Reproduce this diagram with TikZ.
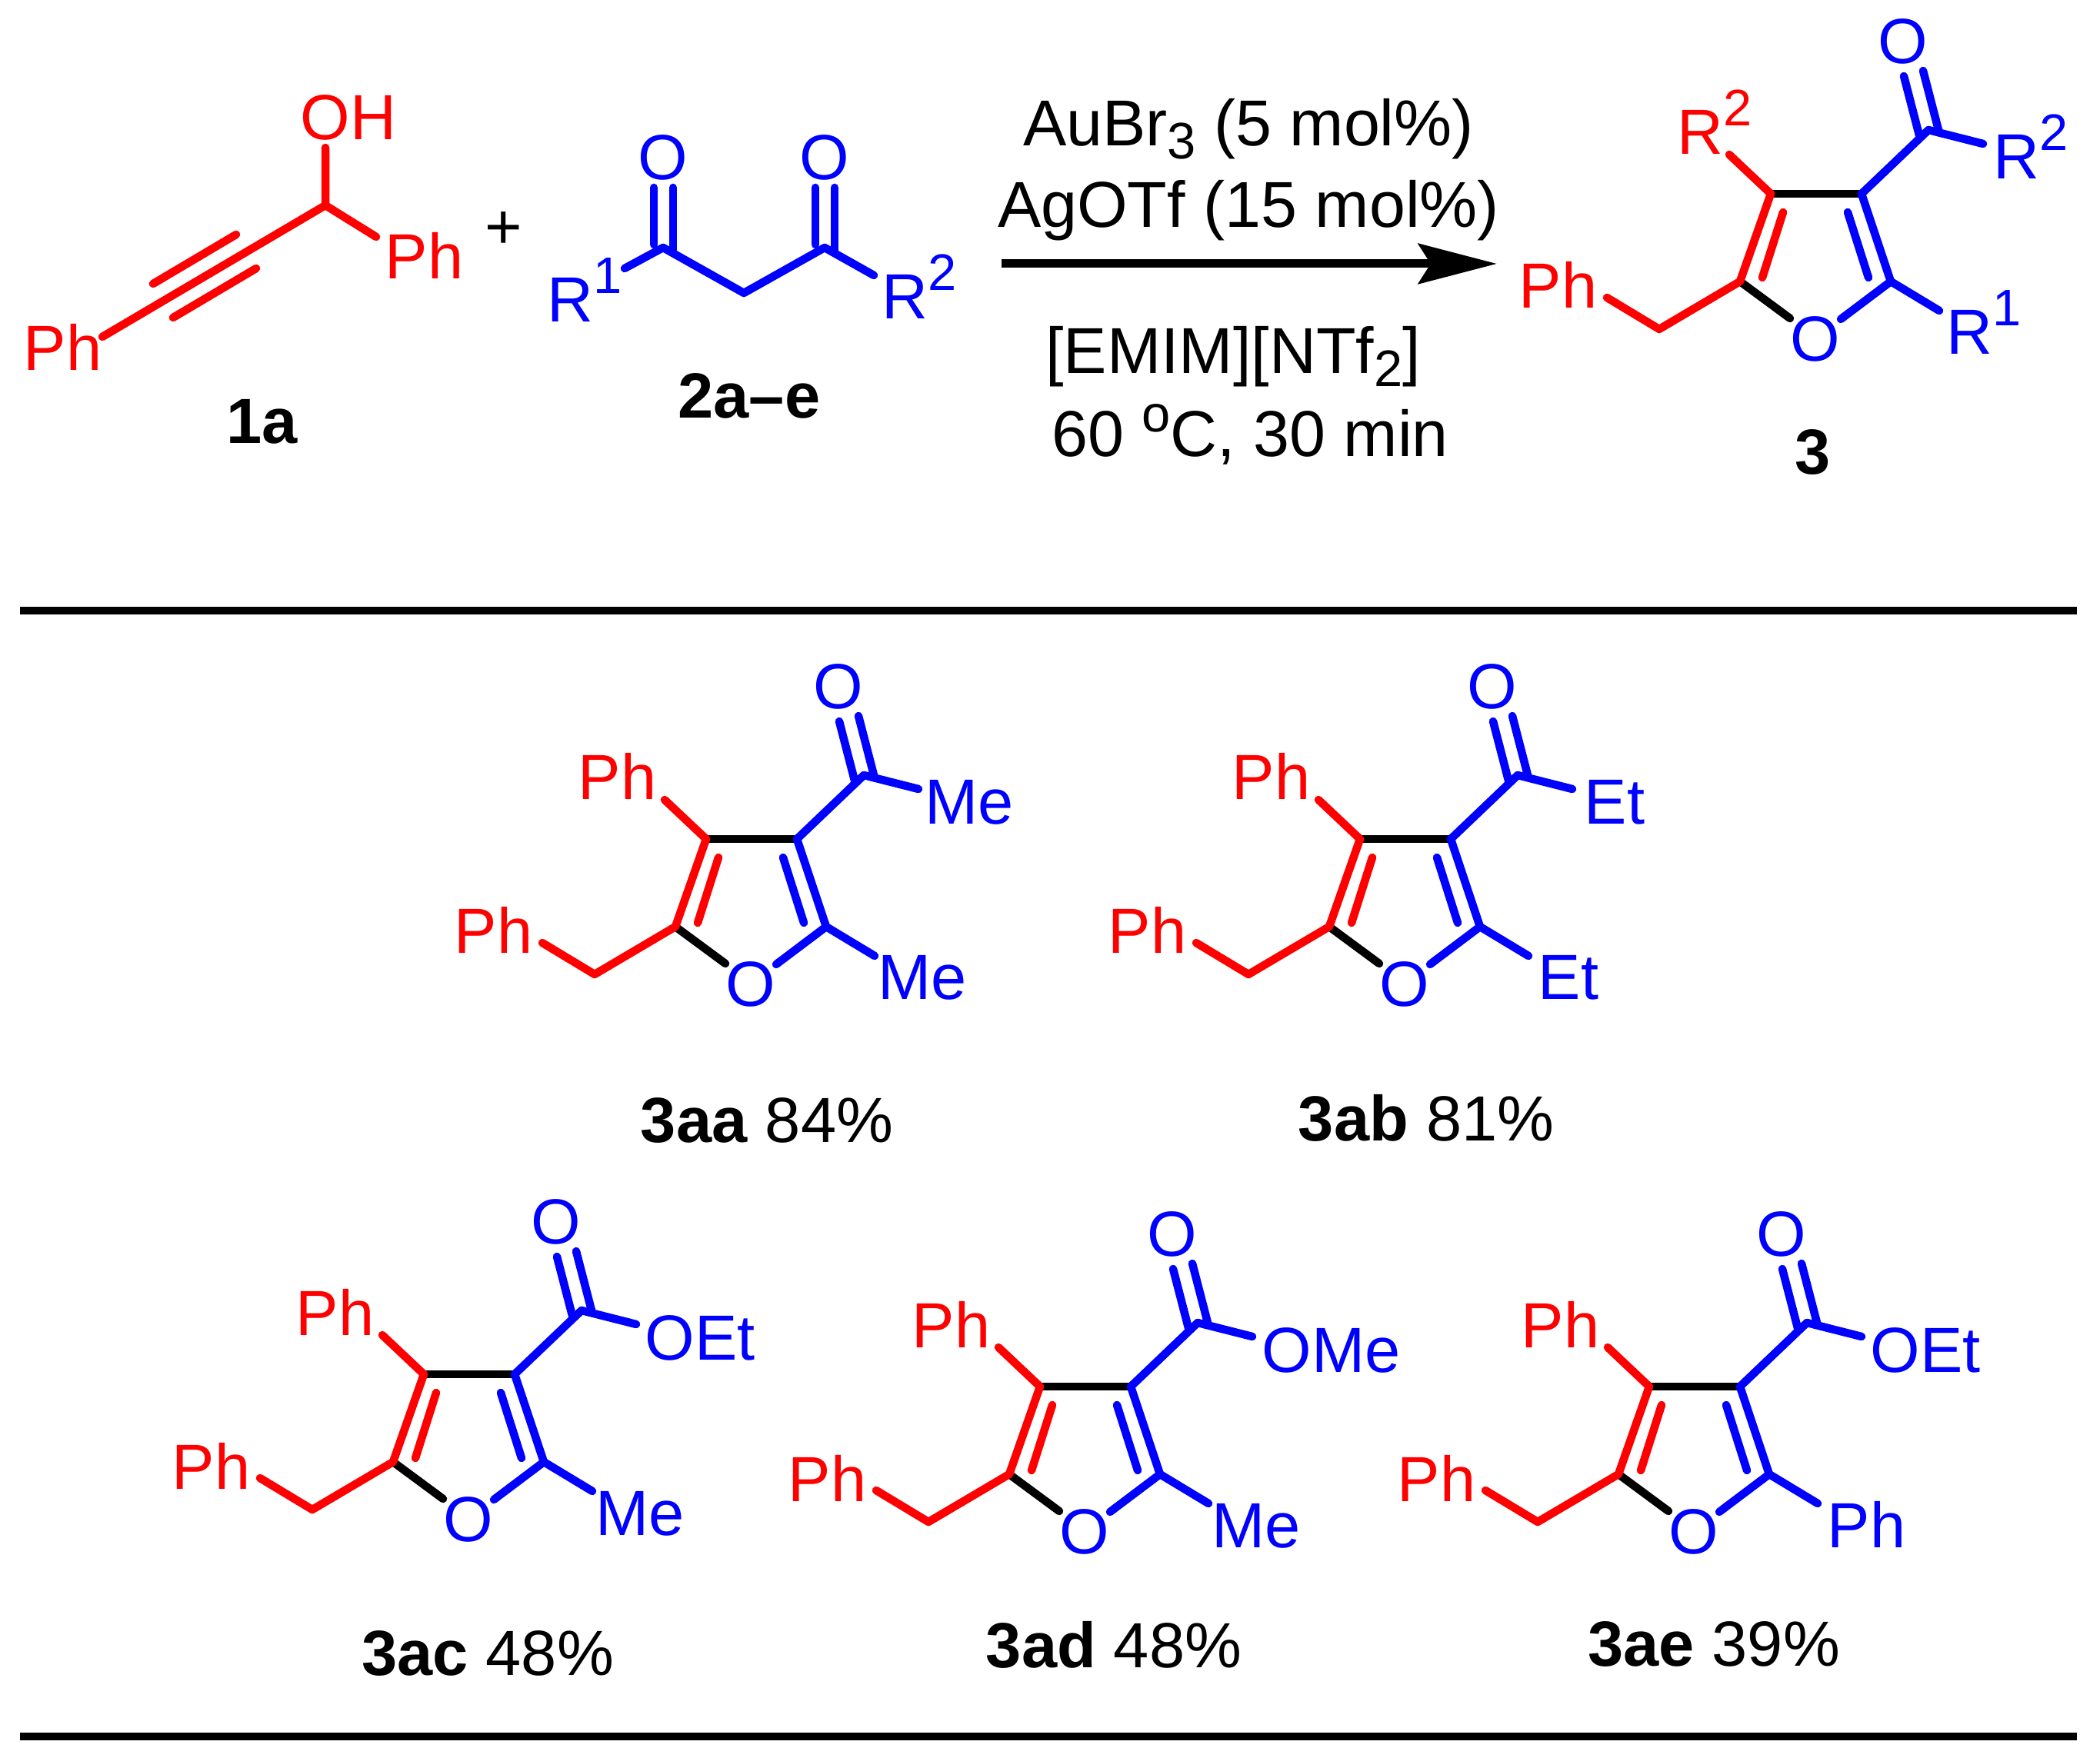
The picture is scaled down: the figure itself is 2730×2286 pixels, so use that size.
\documentclass[tikz,border=0pt]{standalone}
\usepackage{fontspec}
\setmainfont{Liberation Sans}
\usetikzlibrary{arrows.meta,positioning}
\definecolor{chemred}{rgb}{1.0,0.0,0.0}
\definecolor{chemblue}{rgb}{0.0,0.0,1.0}
\newcommand{\smallsize}{\fontsize{19pt}{19pt}\selectfont}
\newcommand{\supr}[1]{\raisebox{.37cm}{\smallsize #1}}
\newcommand{\subr}[1]{\raisebox{-.17cm}{\smallsize #1}}
\tikzset{
  every node/.style={font=\fontsize{23.6pt}{28pt}\selectfont,inner sep=0pt},
  bond/.style={line width=.105cm,line cap=round,line join=round},
  atom/.style={anchor=base west},
  cond/.style={anchor=base,font=\fontsize{24pt}{28pt}\selectfont},
  rule/.style={line width=.1cm},
}
% furan: name, shift x, shift y, upper left, upper right, lower right
\newcommand{\furan}[6]{
  \begin{scope}[shift={(#2,#3)}]
    \coordinate (#1-c3) at (918,1091);
    \coordinate (#1-c4) at (1036,1091);
    \coordinate (#1-c5) at (1074,1205);
    \coordinate (#1-c2) at (878,1205);
    \coordinate (#1-ch) at (773,1267);
    \coordinate (#1-co) at (1123,1008);
    \coordinate (#1-i1) at (934,1115);
    \coordinate (#1-i2) at (907,1200);
    \coordinate (#1-i3) at (1018,1115);
    \coordinate (#1-i4) at (1045,1200);
    \coordinate (#1-d1) at (1091,938);
    \coordinate (#1-d2) at (1111,1015);
    \coordinate (#1-d3) at (1116,931);
    \coordinate (#1-d4) at (1136,1008);
    \coordinate (#1-e1) at (705,1226);
    \coordinate (#1-e2) at (864,1040);
    \coordinate (#1-e3) at (1194,1026);
    \coordinate (#1-e4) at (1137,1243);
    \coordinate (#1-o1) at (943,1253);
    \coordinate (#1-o2) at (1009,1254);
    \node[atom,chemred] (#1-ph) at (590,1240) {Ph};
    \node[atom,chemred] (#1-ul) at (751,1040) {#4};
    \node[atom,chemblue] (#1-ur) at (1202,1072) {#5};
    \node[atom,chemblue] (#1-lr) at (1141,1300) {#6};
    \node[chemblue] (#1-o) at (976,1280) {O};
    \node[chemblue] (#1-ot) at (1090,893) {O};
    \draw[bond] (#1-c3) -- (#1-c4);
    \draw[bond] (#1-c2) -- (#1-o1);
    \draw[bond,chemred] (#1-e2) -- (#1-c3) -- (#1-c2) -- (#1-ch) -- (#1-e1);
    \draw[bond,chemred] (#1-i1) -- (#1-i2);
    \draw[bond,chemblue] (#1-co) -- (#1-c4) -- (#1-c5) -- (#1-o2);
    \draw[bond,chemblue] (#1-i3) -- (#1-i4);
    \draw[bond,chemblue] (#1-c5) -- (#1-e4);
    \draw[bond,chemblue] (#1-co) -- (#1-e3);
    \draw[bond,chemblue] (#1-d1) -- (#1-d2);
    \draw[bond,chemblue] (#1-d3) -- (#1-d4);
  \end{scope}
}
\begin{document}
\begin{tikzpicture}[x=.01cm,y=-.01cm]
  \useasboundingbox (0,0) rectangle (2730,2286);
  % alcohol
  \coordinate (a1) at (133,438);
  \coordinate (a2) at (423,267);
  \coordinate (a3) at (423,192);
  \coordinate (a4) at (489,308);
  \coordinate (a5) at (199,369);
  \coordinate (a6) at (307,305);
  \coordinate (a7) at (225,413);
  \coordinate (a8) at (333,349);
  \draw[bond,chemred] (a1) -- (a2) -- (a3);
  \draw[bond,chemred] (a2) -- (a4);
  \draw[bond,chemred] (a5) -- (a6);
  \draw[bond,chemred] (a7) -- (a8);
  \node[atom,chemred] (oh) at (390,182) {OH};
  \node[atom,chemred] (ph1) at (500,363) {Ph};
  \node[atom,chemred] (ph2) at (30,482) {Ph};
  \node (plus) at (655,300) {+};
  \node[anchor=base] (lab1a) at (341,577) {\textbf{1a}};
  % diketone
  \coordinate (b1) at (812,349);
  \coordinate (b2) at (862,322);
  \coordinate (b3) at (967,381);
  \coordinate (b4) at (1072,322);
  \coordinate (b5) at (1136,358);
  \coordinate (b6) at (850,244);
  \coordinate (b7) at (850,318);
  \coordinate (b8) at (875,244);
  \coordinate (b9) at (875,326);
  \coordinate (b10) at (1060,244);
  \coordinate (b11) at (1060,318);
  \coordinate (b12) at (1085,244);
  \coordinate (b13) at (1085,326);
  \draw[bond,chemblue] (b1) -- (b2) -- (b3) -- (b4) -- (b5);
  \draw[bond,chemblue] (b6) -- (b7);
  \draw[bond,chemblue] (b8) -- (b9);
  \draw[bond,chemblue] (b10) -- (b11);
  \draw[bond,chemblue] (b12) -- (b13);
  \node[chemblue] (o1) at (862,205) {O};
  \node[chemblue] (o2) at (1072,205) {O};
  \node[atom,chemblue] (r1) at (711,419) {R\supr{1}};
  \node[atom,chemblue] (r2) at (1146,415) {R\supr{2}};
  \node[anchor=base] (lab2) at (974,544) {\textbf{2a–e}};
  % conditions
  \coordinate (arrow-a) at (1302,343);
  \coordinate (arrow-b) at (1946,343);
  \draw[line width=.11cm,-{Stealth[length=1.02cm,width=.52cm,inset=.16cm]}] (arrow-a) -- (arrow-b);
  \node[cond] (cond1) at (1623,190) {AuBr\subr{3} (5 mol\%)};
  \node[cond] (cond2) at (1623,296) {AgOTf (15 mol\%)};
  \node[cond] (cond3) at (1603,486) {[EMIM][NTf\subr{2}]};
  \node[cond] (cond4) at (1625,594) {60 \raisebox{.32cm}{\smallsize o}C, 30 min};
  % products
  \furan{p3}{1384}{-839}{\hspace*{.45cm}R\supr{2}}{\hspace*{.05cm}R\supr{2}}{\hspace*{.05cm}R\supr{1}}
  \node[anchor=base] (lab3) at (2357,617) {\textbf{3}};
  \coordinate (rule1-a) at (26,794);
  \coordinate (rule1-b) at (2700,794);
  \draw[rule] (rule1-a) -- (rule1-b);
  \furan{aa}{0}{0}{Ph}{Me}{Me}
  \node[anchor=base] (labaa) at (997,1485) {\textbf{3aa} 84\%};
  \furan{ab}{850}{0}{Ph}{\hspace*{.07cm}Et}{\hspace*{.08cm}Et}
  \node[anchor=base] (labab) at (1854,1483) {\textbf{3ab} 81\%};
  \furan{ac}{-367}{696}{Ph}{\hspace*{.03cm}OEt}{Me}
  \node[anchor=base] (labac) at (634,2178) {\textbf{3ac} 48\%};
  \furan{ad}{434}{712}{Ph}{\hspace*{.04cm}OMe}{Me}
  \node[anchor=base] (labad) at (1448,2168) {\textbf{3ad} 48\%};
  \furan{ae}{1226}{712}{Ph}{\hspace*{.03cm}OEt}{\hspace*{.08cm}Ph}
  \node[anchor=base] (labae) at (2228,2166) {\textbf{3ae} 39\%};
  \coordinate (rule2-a) at (26,2258);
  \coordinate (rule2-b) at (2700,2258);
  \draw[rule] (rule2-a) -- (rule2-b);
\end{tikzpicture}
\end{document}
